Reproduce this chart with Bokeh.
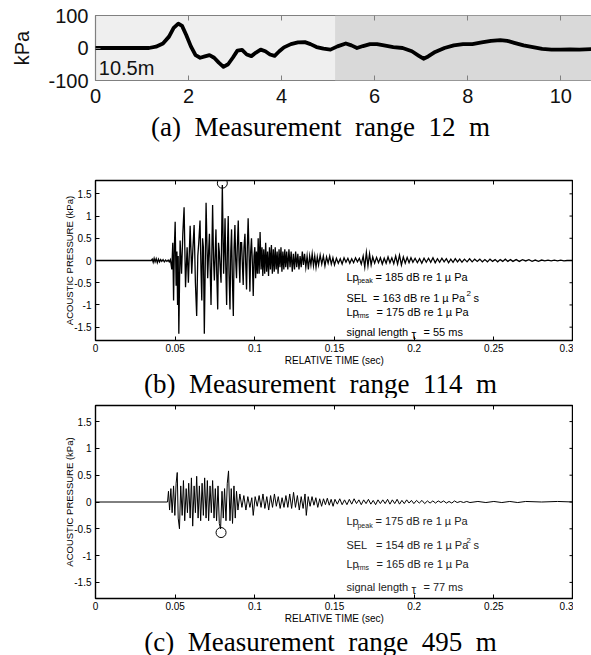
from bokeh.plotting import figure
from bokeh.layouts import column
from bokeh.models import Range1d, LinearAxis, FixedTicker, BoxAnnotation, Label, CustomJSTickFormatter
from bokeh.core.properties import value
from bokeh.embed import file_html
from bokeh.resources import INLINE

SANS = "Liberation Sans"
SERIF = "Liberation Serif"

# ---------------- data: panel (a) ----------------
a_dist = [0.0, 1.15, 1.3, 1.45, 1.58, 1.68, 1.78, 1.86, 1.95, 2.05,
          2.15, 2.25, 2.35, 2.45, 2.55, 2.65, 2.75, 2.85, 2.95, 3.05,
          3.15, 3.25, 3.35, 3.45, 3.55, 3.65, 3.75, 3.85, 3.95, 4.05,
          4.2, 4.35, 4.5, 4.62, 4.75, 4.9, 5.05, 5.2, 5.38, 5.5,
          5.62, 5.75, 5.9, 6.05, 6.2, 6.4, 6.6, 6.8, 6.95, 7.05,
          7.15, 7.3, 7.5, 7.7, 7.9, 8.1, 8.3, 8.5, 8.7, 8.85,
          9.0, 9.2, 9.4, 9.6, 9.8, 10.0, 10.2, 10.4, 10.7]
a_kpa = [0, 0, 4, 14, 35, 62, 75, 68, 40, 5,
         -22, -30, -26, -22, -30, -45, -58, -50, -30, -8,
         -6, -20, -25, -14, -5, -10, -20, -24, -10, 2,
         12, 17, 18, 12, 3, -2, -5, 5, 14, 8,
         0, 6, 12, 12, 8, 3, 0, -10, -24, -33,
         -26, -12, 0, 8, 12, 12, 17, 22, 24, 22,
         16, 8, 3, -3, -5, -5, -4, -5, -3]
a_shade_split = 5.15
a_xticks = [0, 2, 4, 6, 8, 10]
a_xlabels = ["0", "2", "4", "6", "8", "10"]
a_yticks = [-100, 0, 100]
a_ylabels = ["-100", "0", "100"]
a_tag = "10.5m"

# ---------------- data: panel (b) ----------------
b_time = [0, 0.035, 0.0356, 0.0362, 0.0368, 0.0374, 0.0381, 0.0388, 0.0395, 0.0402,
          0.0409, 0.0416, 0.0424, 0.0432, 0.044, 0.0448, 0.0456, 0.0463, 0.047, 0.0479,
          0.0485, 0.049, 0.0495, 0.05, 0.0506, 0.0511, 0.0515, 0.0519, 0.0523, 0.0531,
          0.054, 0.0548, 0.0556, 0.0565, 0.0575, 0.0583, 0.0594, 0.0604, 0.0611, 0.0619,
          0.0627, 0.0635, 0.0642, 0.0648, 0.0656, 0.0662, 0.0667, 0.0672, 0.0677, 0.0683,
          0.0694, 0.0704, 0.071, 0.0715, 0.072, 0.0725, 0.0735, 0.0741, 0.0746, 0.0756,
          0.0761, 0.0767, 0.0772, 0.0777, 0.0783, 0.0788, 0.0796, 0.0804, 0.0809, 0.0813,
          0.0818, 0.0823, 0.0828, 0.0833, 0.0838, 0.0844, 0.0849, 0.0854, 0.0859, 0.0865,
          0.087, 0.0875, 0.088, 0.0885, 0.089, 0.0896, 0.0901, 0.0906, 0.0911, 0.0917,
          0.0922, 0.0927, 0.0932, 0.0938, 0.0943, 0.0948, 0.0953, 0.0958, 0.0964, 0.0969,
          0.0974, 0.0979, 0.0985, 0.099, 0.0995, 0.1, 0.1005, 0.101, 0.1016, 0.1021,
          0.1027, 0.1033, 0.1039, 0.1045, 0.105, 0.1056, 0.1062, 0.1068, 0.1074, 0.108,
          0.1086, 0.1092, 0.1098, 0.1104, 0.111, 0.1116, 0.1122, 0.1128, 0.1134, 0.114,
          0.1146, 0.1152, 0.1158, 0.1164, 0.117, 0.1176, 0.1182, 0.1188, 0.1194, 0.12,
          0.1207, 0.1214, 0.1221, 0.1228, 0.1235, 0.1242, 0.1249, 0.1256, 0.1263, 0.127,
          0.1277, 0.1284, 0.1291, 0.1298, 0.1305, 0.1312, 0.132, 0.1328, 0.1336, 0.1344,
          0.1352, 0.136, 0.1368, 0.1376, 0.1384, 0.1392, 0.14, 0.141, 0.142, 0.143,
          0.144, 0.145, 0.146, 0.147, 0.148, 0.149, 0.15, 0.1512, 0.1524, 0.1536,
          0.1548, 0.156, 0.1572, 0.1584, 0.1596, 0.1608, 0.162, 0.1632, 0.1644, 0.1656,
          0.1668, 0.168, 0.169, 0.17, 0.171, 0.172, 0.173, 0.174, 0.1752, 0.1764,
          0.1776, 0.1788, 0.18, 0.1812, 0.1824, 0.1836, 0.1848, 0.186, 0.1872, 0.1884,
          0.1896, 0.1908, 0.192, 0.1932, 0.1944, 0.1956, 0.1968, 0.198, 0.1992, 0.2006,
          0.202, 0.2034, 0.2048, 0.2062, 0.2076, 0.209, 0.2104, 0.2118, 0.2132, 0.2146,
          0.216, 0.2174, 0.2188, 0.2202, 0.2216, 0.223, 0.2244, 0.2258, 0.2272, 0.2286,
          0.23, 0.2316, 0.2332, 0.2348, 0.2364, 0.238, 0.2396, 0.2412, 0.2428, 0.2444,
          0.246, 0.2476, 0.2492, 0.2508, 0.2524, 0.254, 0.2556, 0.2572, 0.2588, 0.2604,
          0.262, 0.264, 0.266, 0.268, 0.27, 0.272, 0.274, 0.276, 0.278, 0.28,
          0.282, 0.284, 0.286, 0.288, 0.29, 0.292, 0.294, 0.296, 0.3]
b_kpa = [0, 0, 0.03, -0.04, 0.05, -0.03, 0.04, -0.05, 0.03, -0.03,
         0.02, -0.02, 0.02, -0.03, 0.01, -0.02, 0.01, -0.03, 0.02, -0.20,
         0.40, -0.90, 0.30, 0.87, -0.57, 0.20, -1.00, 0.10, -1.65, 0.45,
         -0.30, 0.60, 1.20, -0.60, 0.30, -0.50, 0.78, -0.30, 0.25, 0.80,
         -0.50, -1.25, 0.10, 0.40, 0.90, -0.20, -0.90, 0.50, 0.30, -1.65,
         1.30, -0.40, 0.20, 0.60, -0.20, -1.00, 1.25, 0.00, -0.45, 0.70,
         -0.30, -1.10, 0.40, 0.20, -0.20, -0.50, 1.70, -0.30, 0.30, 0.95,
         -0.20, -1.00, 0.30, 1.00, -0.30, -1.10, 0.20, 0.70, -0.40, -1.25,
         0.30, 0.80, 0.00, -0.40, 0.30, 0.90, 0.00, -0.50, 0.40, 0.40,
         -0.10, -0.55, 0.30, 0.60, -0.10, -0.65, 0.30, 0.95, 0.10, -0.70,
         0.20, 0.50, -0.10, -0.80, 0.10, 0.30, -0.40, 0.20, -0.30, 0.50,
         -0.30, 0.64, -0.20, 0.30, -0.35, 0.25, -0.30, 0.40, -0.25, 0.20,
         -0.35, 0.30, -0.20, 0.35, -0.30, 0.25, -0.25, 0.30, -0.20, 0.20,
         -0.30, 0.25, -0.15, 0.30, -0.25, 0.20, -0.20, 0.25, -0.15, 0.20,
         -0.20, 0.25, -0.15, 0.20, -0.25, 0.15, -0.20, 0.20, -0.15, 0.15,
         -0.20, 0.10, -0.15, 0.20, -0.10, 0.15, -0.15, 0.10, -0.20, 0.10,
         -0.10, 0.15, -0.12, 0.10, -0.15, 0.08, -0.10, 0.12, -0.08, 0.10,
         -0.12, 0.08, -0.06, 0.10, -0.08, 0.06, -0.10, 0.05, -0.06, 0.04,
         -0.08, 0.06, -0.04, 0.05, -0.06, 0.04, -0.05, 0.06, -0.03, 0.05,
         -0.08, 0.10, -0.15, 0.18, -0.12, 0.15, -0.10, 0.08, -0.06, 0.07,
         -0.05, 0.06, -0.08, 0.05, -0.06, 0.08, -0.05, 0.06, -0.07, 0.10,
         -0.08, 0.12, -0.10, 0.08, -0.06, 0.07, -0.05, 0.06, -0.04, 0.05,
         -0.05, 0.04, -0.06, 0.05, -0.04, 0.05, -0.04, 0.06, -0.05, 0.04,
         -0.04, 0.05, -0.03, 0.04, -0.05, 0.03, -0.04, 0.04, -0.03, 0.03,
         -0.04, 0.03, -0.03, 0.04, -0.03, 0.03, -0.02, 0.03, -0.03, 0.02,
         -0.03, 0.03, -0.02, 0.02, -0.03, 0.02, -0.02, 0.03, -0.02, 0.02,
         -0.02, 0.02, -0.02, 0.02, -0.01, 0.02, -0.02, 0.01, -0.02, 0.01,
         -0.01, 0.01, -0.01, 0.01, -0.01, 0.01, -0.01, 0.00, 0.00]
b_mark_t = [0.0796]
b_mark_v = [1.74]
b_stat_y = [-0.36, -0.84, -1.15, -1.61]
b_stats = ["= 185 dB re 1 \u00b5 Pa", "SEL  = 163 dB re 1 \u00b5 Pa", "= 175 dB re 1 \u00b5 Pa", "= 55 ms"]

# ---------------- data: panel (c) ----------------
c_time = [0, 0.0452, 0.0458, 0.0465, 0.0473, 0.0481, 0.049, 0.0498, 0.0506, 0.0513,
          0.0519, 0.0527, 0.0535, 0.0544, 0.0552, 0.056, 0.0569, 0.0577, 0.0585, 0.0594,
          0.0602, 0.061, 0.0619, 0.0627, 0.0635, 0.0644, 0.0652, 0.066, 0.0669, 0.0677,
          0.0685, 0.0694, 0.0702, 0.071, 0.0719, 0.0727, 0.0735, 0.0744, 0.0752, 0.076,
          0.0769, 0.0777, 0.0785, 0.0794, 0.0802, 0.081, 0.0819, 0.0827, 0.0835, 0.0844,
          0.0852, 0.086, 0.0869, 0.0877, 0.0885, 0.0894, 0.0906, 0.0919, 0.0931, 0.0944,
          0.0956, 0.0969, 0.0981, 0.099, 0.1002, 0.1015, 0.1027, 0.1039, 0.1051, 0.1063,
          0.1075, 0.1087, 0.1099, 0.1111, 0.1123, 0.1135, 0.1147, 0.1159, 0.1171, 0.1183,
          0.1195, 0.1207, 0.1219, 0.1231, 0.1243, 0.1255, 0.1267, 0.1279, 0.1291, 0.1303,
          0.1315, 0.1323, 0.1335, 0.1347, 0.1359, 0.1371, 0.1383, 0.1395, 0.1407, 0.1419,
          0.1431, 0.1443, 0.1455, 0.1467, 0.1479, 0.1491, 0.1503, 0.1518, 0.1533, 0.1548,
          0.1563, 0.1578, 0.1593, 0.1608, 0.1623, 0.1638, 0.1653, 0.1668, 0.1683, 0.1698,
          0.1713, 0.1728, 0.1743, 0.1758, 0.1773, 0.1788, 0.1803, 0.1818, 0.1833, 0.1848,
          0.1863, 0.1878, 0.1893, 0.1908, 0.1923, 0.1938, 0.1953, 0.1968, 0.1983, 0.1998,
          0.2015, 0.2032, 0.2049, 0.2066, 0.2083, 0.21, 0.2117, 0.2134, 0.2151, 0.2168,
          0.2185, 0.2202, 0.2219, 0.2236, 0.2253, 0.227, 0.229, 0.231, 0.233, 0.235,
          0.24, 0.245, 0.25, 0.255, 0.26, 0.265, 0.27, 0.28, 0.29, 0.3]
c_kpa = [0, 0, 0.20, -0.15, 0.25, -0.20, 0.30, -0.25, 0.35, 0.55,
         -0.30, -0.50, 0.30, -0.25, 0.40, -0.35, 0.25, -0.20, 0.35, -0.30,
         0.45, -0.45, 0.30, -0.20, 0.48, -0.30, 0.30, -0.35, 0.35, -0.25,
         0.45, -0.30, 0.40, -0.35, 0.30, -0.20, 0.40, -0.30, 0.25, -0.35,
         0.30, -0.40, -0.50, 0.20, -0.30, 0.25, -0.35, 0.35, 0.58, -0.35,
         0.25, -0.40, 0.30, -0.30, 0.20, -0.15, 0.15, -0.10, 0.12, -0.15,
         0.10, -0.10, 0.08, -0.25, 0.10, -0.08, 0.12, -0.10, 0.15, -0.12,
         0.10, -0.15, 0.12, -0.10, 0.15, -0.08, 0.10, -0.12, 0.08, -0.10,
         0.12, -0.10, 0.15, -0.12, 0.18, -0.10, 0.12, -0.15, 0.10, -0.12,
         0.15, -0.25, 0.10, -0.08, 0.10, -0.06, 0.08, -0.10, 0.06, -0.08,
         0.06, -0.05, 0.07, -0.06, 0.05, -0.08, 0.05, -0.04, 0.06, -0.05,
         0.04, -0.05, 0.05, -0.04, 0.06, -0.03, 0.04, -0.05, 0.04, -0.03,
         0.05, -0.04, 0.03, -0.05, 0.04, -0.03, 0.04, -0.03, 0.05, -0.04,
         0.04, -0.03, 0.05, -0.04, 0.03, -0.03, 0.04, -0.02, 0.03, -0.03,
         0.03, -0.02, 0.03, -0.03, 0.02, -0.02, 0.02, -0.02, 0.02, -0.01,
         0.02, -0.02, 0.01, -0.02, 0.02, -0.01, 0.01, -0.01, 0.01, -0.01,
         0.01, -0.01, 0.01, -0.01, 0.01, -0.01, 0.01, 0.00, 0.01, 0.00]
c_mark_t = [0.0788]
c_mark_v = [-0.57]
c_stat_y = [-0.355, -0.80, -1.15, -1.58]
c_stats = ["= 175 dB re 1 \u00b5 Pa", "SEL   = 154 dB re 1 \u00b5 Pa", "= 165 dB re 1 \u00b5 Pa", "= 77 ms"]

# ---------------- shared axis text ----------------
t_ticks = [0, 0.05, 0.1, 0.15, 0.2, 0.25, 0.3]
t_labels = ["0", "0.05", "0.1", "0.15", "0.2", "0.25", "0.3"]
p_ticks = [-1.5, -1, -0.5, 0, 0.5, 1, 1.5]
p_labels = ["-1.5", "-1", "-0.5", "0", "0.5", "1", "1.5"]
captions = ["(a)  Measurement  range  12  m",
            "(b)  Measurement  range  114  m",
            "(c)  Measurement  range  495  m"]

LEFT = 95  # common left border of every figure in the column


def keep_spaces(s):
    return s.replace("  ", " \u00a0")


def tick_only(p, side, ticks, length, color, width):
    ax = LinearAxis(ticker=FixedTicker(ticks=ticks),
                    formatter=CustomJSTickFormatter(code="return ''"),
                    major_tick_in=length, major_tick_out=0,
                    minor_tick_line_color=None, axis_line_color=None,
                    major_tick_line_color=color, major_tick_line_width=width,
                    major_label_text_font_size="1px", major_label_standoff=0)
    p.add_layout(ax, side)


def style_axes(p, xt, xl, yt, yl, size, color, tick_len, tick_color, tick_w, xstand, ystand):
    for ax, tk, lb, st in ((p.xaxis[0], xt, xl, xstand), (p.yaxis[0], yt, yl, ystand)):
        ax.ticker = FixedTicker(ticks=tk)
        ax.major_label_overrides = dict(zip(tk, lb))
        ax.major_label_text_font = SANS
        ax.major_label_text_font_size = size
        ax.major_label_text_color = color
        ax.major_label_standoff = st
        ax.major_tick_in = tick_len
        ax.major_tick_out = 0
        ax.major_tick_line_color = tick_color
        ax.major_tick_line_width = tick_w
        ax.minor_tick_line_color = None
        ax.axis_line_color = None
        ax.axis_label_text_font = SANS
        ax.axis_label_text_font_style = "normal"
        ax.axis_label_text_color = color
    p.xgrid.visible = False
    p.ygrid.visible = False


def caption_fig(h, text, lift):
    p = figure(width=591, height=h, x_range=Range1d(LEFT, 591), y_range=Range1d(0, h),
               output_backend="svg", toolbar_location=None,
               x_axis_location=None, y_axis_location=None,
               min_border_left=LEFT, min_border_right=0, min_border_top=0, min_border_bottom=0)
    p.outline_line_color = None
    p.background_fill_color = "white"
    p.border_fill_color = "white"
    p.xgrid.visible = False
    p.ygrid.visible = False
    p.text(x=[320], y=[h / 2 + lift], text=[keep_spaces(text)], text_font=value(SERIF),
           text_font_size="27px", text_color="black", text_align="center",
           text_baseline="middle")
    return p


# ---------------- panel (a) ----------------
pa = figure(width=591, height=112, x_range=Range1d(0, 10.66), y_range=Range1d(-100, 100),
            output_backend="svg", toolbar_location=None,
            min_border_left=LEFT, min_border_right=0, min_border_top=15, min_border_bottom=32)
pa.background_fill_color = "#efefef"
pa.border_fill_color = "white"
pa.outline_line_color = "#808080"
pa.outline_line_width = 1.2
style_axes(pa, a_xticks, a_xlabels, a_yticks, a_ylabels, "20px", "#111111", 5, "#808080", 1, 8, 7)
pa.yaxis[0].axis_label = "kPa"
pa.yaxis[0].axis_label_text_font_size = "20px"
pa.yaxis[0].axis_label_standoff = 12
tick_only(pa, "above", a_xticks, 5, "#808080", 1)
pa.add_layout(BoxAnnotation(left=a_shade_split, fill_color="#d9d9d9", fill_alpha=1,
                            line_alpha=0, level="underlay"))
pa.line(a_dist, a_kpa, line_width=3.8, line_color="black", line_join="round", line_cap="round")
pa.add_layout(Label(x=0.07, y=-62, text=a_tag, text_font=SANS, text_font_size="20px",
                    text_color="#111111", text_baseline="middle", text_align="left"))


# ---------------- panels (b), (c) ----------------
def pressure_panel(height, top, bottom, t, v, lw, mark_t, mark_v):
    p = figure(width=573, height=height, x_range=Range1d(0, 0.3), y_range=Range1d(-1.8, 1.8),
               output_backend="svg", toolbar_location=None,
               min_border_left=LEFT, min_border_right=0, min_border_top=top, min_border_bottom=bottom)
    p.background_fill_color = "white"
    p.border_fill_color = "white"
    p.outline_line_color = "black"
    p.outline_line_width = 1.4
    style_axes(p, t_ticks, t_labels, p_ticks, p_labels, "10px", "black", 4, "black", 1, 3, 4)
    p.xaxis[0].axis_label = "RELATIVE TIME (sec)"
    p.xaxis[0].axis_label_text_font_size = "10px"
    p.xaxis[0].axis_label_standoff = 0
    p.yaxis[0].axis_label = "ACOUSTIC PRESSURE (kPa)"
    p.yaxis[0].axis_label_text_font_size = "9.5px"
    p.yaxis[0].axis_label_standoff = -4
    tick_only(p, "above", t_ticks, 4, "black", 1)
    # right-hand inner ticks: dashes centred on the right frame edge (outer half clipped)
    p.scatter([t_ticks[-1]] * len(p_ticks), p_ticks, marker="dash", size=8,
              line_color="black", line_width=1)
    p.line(t, v, line_width=lw, line_color="black", line_join="miter")
    p.scatter(mark_t, mark_v, marker="circle", size=10, fill_color=None,
              line_color="black", line_width=1)
    return p


def add_stats(p, x0, ys, stats, color):
    rows = [
        [("Lp", 0, 0, "11px"), ("peak", 11, -4, "7px"), (stats[0], 29, 0, "11px")],
        [(stats[1], 0, 0, "11px"), ("2", 120, 4, "8px"), ("s", 127, 0, "11px")],
        [("Lp", 0, 0, "11px"), ("rms", 11, -4, "7px"), (stats[2], 30, 0, "11px")],
        [("signal length", 0, 0, "11px"), ("\u03c4", 65, -3, "12px"), (stats[3], 77, 0, "11px")],
    ]
    for y, row in zip(ys, rows):
        for text, dx, dy, size in row:
            p.add_layout(Label(x=x0, y=y, x_offset=dx, y_offset=dy, text=keep_spaces(text),
                               text_font=SANS, text_font_size=size, text_color=color,
                               text_baseline="middle", text_align="left"))


pb = pressure_panel(224, 36, 26, b_time, b_kpa, 1.3, b_mark_t, b_mark_v)
add_stats(pb, 0.1575, b_stat_y, b_stats, "black")

pc = pressure_panel(229, 7, 29, c_time, c_kpa, 1.0, c_mark_t, c_mark_v)
add_stats(pc, 0.1575, c_stat_y, c_stats, "#222222")

cap_a = caption_fig(32, captions[0], 2)
cap_b = caption_fig(30, captions[1], 0)
cap_c = caption_fig(28, captions[2], 0)

layout = column(pa, cap_a, pb, cap_b, pc, cap_c, spacing=0)
open("out.html", "w").write(file_html(layout, INLINE))
